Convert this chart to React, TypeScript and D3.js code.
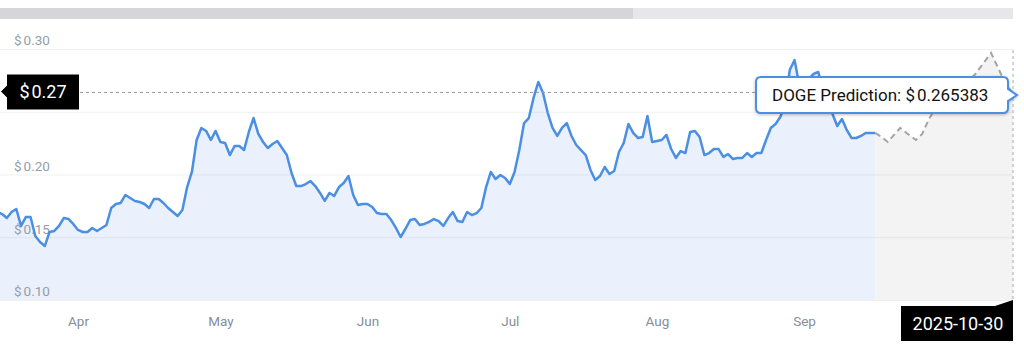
import { useEffect, useRef } from 'react';
import * as d3 from 'd3';

// daily DOGE closes (Mar 15 .. Sep 16, 2025)
const marchPrices = [0.1701, 0.1685, 0.1653, 0.1701, 0.1725, 0.1590, 0.1661, 0.1661, 0.1510, 0.1462, 0.1430, 0.1542, 0.1550, 0.1590, 0.1653, 0.1645, 0.1606];
const aprilPrices = [0.1558, 0.1542, 0.1542, 0.1574, 0.1550, 0.1574, 0.1598, 0.1733, 0.1765, 0.1773, 0.1837, 0.1813, 0.1789, 0.1781, 0.1765, 0.1733, 0.1805, 0.1805, 0.1773, 0.1733, 0.1701, 0.1669, 0.1717, 0.1900, 0.2020, 0.2275, 0.2371, 0.2347, 0.2275, 0.2347];
const mayPrices = [0.2259, 0.2251, 0.2155, 0.2227, 0.2227, 0.2195, 0.2339, 0.2450, 0.2323, 0.2259, 0.2211, 0.2243, 0.2267, 0.2211, 0.2155, 0.2012, 0.1908, 0.1908, 0.1924, 0.1948, 0.1908, 0.1853, 0.1789, 0.1853, 0.1829, 0.1900, 0.1932, 0.1988, 0.1837, 0.1757, 0.1765];
const junePrices = [0.1765, 0.1741, 0.1693, 0.1685, 0.1685, 0.1637, 0.1574, 0.1502, 0.1566, 0.1637, 0.1645, 0.1598, 0.1606, 0.1622, 0.1645, 0.1629, 0.1590, 0.1653, 0.1701, 0.1629, 0.1622, 0.1701, 0.1677, 0.1693, 0.1733, 0.1900, 0.2020, 0.1964, 0.1996, 0.1972];
const julyPrices = [0.1924, 0.2020, 0.2195, 0.2410, 0.2450, 0.2610, 0.2737, 0.2650, 0.2490, 0.2371, 0.2307, 0.2371, 0.2410, 0.2307, 0.2235, 0.2195, 0.2155, 0.2036, 0.1956, 0.1988, 0.2060, 0.2004, 0.2028, 0.2179, 0.2251, 0.2402, 0.2331, 0.2291, 0.2299, 0.2466, 0.2259];
const augustPrices = [0.2267, 0.2275, 0.2315, 0.2203, 0.2132, 0.2187, 0.2171, 0.2339, 0.2347, 0.2299, 0.2155, 0.2171, 0.2203, 0.2203, 0.2140, 0.2163, 0.2124, 0.2132, 0.2132, 0.2171, 0.2140, 0.2171, 0.2171, 0.2275, 0.2371, 0.2402, 0.2458, 0.2554, 0.2833, 0.2912, 0.2713];
const septemberPrices = [0.2689, 0.2761, 0.2801, 0.2817, 0.2673, 0.2562, 0.2482, 0.2386, 0.2442, 0.2355, 0.2291, 0.2291, 0.2307, 0.2331, 0.2331, 0.2331];

// prediction path: days after the last close, and predicted price
const forecastDayOffsets = [0, 2, 4, 8, 10, 13, 15, 17, 20, 24, 28, 32, 37, 40, 42, 44];
const forecastPrices = [0.2331, 0.2299, 0.2259, 0.2371, 0.2331, 0.2275, 0.2323, 0.2434, 0.2562, 0.2650, 0.2705, 0.2801, 0.2968, 0.2809, 0.2705, 0.265383];

const monthLabels = ['Apr', 'May', 'Jun', 'Jul', 'Aug', 'Sep'];
const yTicks = [0.10, 0.15, 0.20, 0.25, 0.30];
const hiddenTick = 0.25; // sits under the price flag
const predictedPrice = 0.265383;
const predictionLabel = '2025-10-30';

// "$" followed by a small gap, like the source font renders it
function dollarText(sel: any, value: string) {
  sel.text(null);
  sel.append('tspan').text('$');
  sel.append('tspan').attr('dx', 2).text(value);
}

export default function App() {
  const svgRef = useRef<SVGSVGElement>(null);

  useEffect(() => {
    const svg = d3.select(svgRef.current);
    svg.selectAll('*').remove();

    const plotRight = 1013;
    const plotBottom = 300;

    const firstDay = new Date(2025, 2, 15);
    const prices = [...marchPrices, ...aprilPrices, ...mayPrices, ...junePrices, ...julyPrices, ...augustPrices, ...septemberPrices];
    const history = prices.map((v, i) => ({ date: d3.timeDay.offset(firstDay, i), value: v }));
    const lastDate = history[history.length - 1].date;
    const forecast = forecastDayOffsets.map((d, i) => ({ date: d3.timeDay.offset(lastDate, d), value: forecastPrices[i] }));
    const predDate = forecast[forecast.length - 1].date;

    const x = d3.scaleTime()
      .domain([new Date(2025, 3, 1), lastDate, predDate])
      .range([78, 875.2, plotRight]);

    const y = d3.scaleLinear()
      .domain([0.10, 0.30])
      .range([plotBottom, 49]);

    const font = 'Roboto, sans-serif';

    // range bar on top
    svg.append('rect').attr('x', 0).attr('y', 8).attr('width', 633).attr('height', 11).attr('fill', '#d5d5da');
    svg.append('rect').attr('x', 633).attr('y', 8).attr('width', plotRight - 633).attr('height', 11).attr('fill', '#e7e7eb');

    const area = d3.area<{ date: Date; value: number }>()
      .x(d => x(d.date))
      .y0(plotBottom)
      .y1(d => y(d.value));

    const line = d3.line<{ date: Date; value: number }>()
      .x(d => x(d.date))
      .y(d => y(d.value));

    svg.append('path').datum(history).attr('d', area).attr('fill', '#eaf1fc');
    svg.append('path').datum(forecast).attr('d', area).attr('fill', '#f3f3f3');

    // grid + y labels
    const yAxis = svg.append('g')
      .call(d3.axisRight(y).tickValues(yTicks).tickSize(plotRight).tickFormat(d => (+d).toFixed(2)));
    yAxis.select('.domain').remove();
    yAxis.selectAll('line').attr('stroke', 'rgba(0,0,0,0.06)');
    yAxis.selectAll('text')
      .attr('x', 14)
      .attr('dy', '-0.3em')
      .attr('text-anchor', 'start')
      .style('font-family', font)
      .style('font-size', '13.5px')
      .attr('fill', '#959ea9')
      .each(function (d: any) {
        const t = d3.select(this);
        if (Math.abs(d - hiddenTick) < 1e-9) { t.remove(); return; }
        dollarText(t, (+d).toFixed(2));
      });

    // x labels
    const xAxis = svg.append('g')
      .attr('transform', `translate(0,${plotBottom})`)
      .call(d3.axisBottom(x)
        .tickValues(monthLabels.map((_, i) => new Date(2025, 3 + i, 1)))
        .tickFormat((_, i) => monthLabels[i])
        .tickSize(0)
        .tickPadding(16));
    xAxis.select('.domain').remove();
    xAxis.selectAll('text')
      .style('font-family', font)
      .style('font-size', '13.5px')
      .attr('fill', '#858e99');

    // lines
    svg.append('path').datum(history).attr('d', line)
      .attr('fill', 'none').attr('stroke', '#4a8fe2').attr('stroke-width', 2.5)
      .attr('stroke-linejoin', 'round');
    svg.append('path').datum(forecast).attr('d', line)
      .attr('fill', 'none').attr('stroke', '#a3a3a3').attr('stroke-width', 2)
      .attr('stroke-dasharray', '6 4');

    // crosshair
    const py = y(predictedPrice);
    const px = x(predDate);
    svg.append('line')
      .attr('x1', 80).attr('x2', px).attr('y1', py).attr('y2', py)
      .attr('stroke', '#999').attr('stroke-width', 1).attr('stroke-dasharray', '3 3');
    svg.append('line')
      .attr('x1', px).attr('x2', px).attr('y1', 50).attr('y2', plotBottom)
      .attr('stroke', '#aaa').attr('stroke-width', 1).attr('stroke-dasharray', '3 3');

    // y label flag
    const ly = py - 1;
    svg.append('path')
      .attr('d', `M1,${ly} L7,${ly - 6} L7,${ly - 17} L79,${ly - 17} L79,${ly + 18} L7,${ly + 18} L7,${ly + 6} Z`)
      .attr('fill', '#000');
    const flagText = svg.append('text')
      .attr('x', 43).attr('y', ly + 6.5)
      .attr('text-anchor', 'middle')
      .style('font-family', font).style('font-size', '18px')
      .attr('fill', '#fff');
    dollarText(flagText, predictedPrice.toFixed(2));

    // x label flag
    svg.append('path')
      .attr('d', `M${px - 112},306 L${px - 18},306 L${px},${plotBottom} L${px},341 L${px - 112},341 Z`)
      .attr('fill', '#000');
    svg.append('text')
      .attr('x', px - 55).attr('y', 330)
      .attr('text-anchor', 'middle')
      .style('font-family', font).style('font-size', '18px')
      .attr('fill', '#fff')
      .text(predictionLabel);

    // tooltip
    const defs = svg.append('defs');
    const f = defs.append('filter').attr('id', 'tipShadow').attr('x', '-10%').attr('y', '-30%').attr('width', '120%').attr('height', '160%');
    f.append('feDropShadow').attr('dx', 0).attr('dy', 1).attr('stdDeviation', 1.5).attr('flood-opacity', 0.25);

    const tx0 = 756, tx1 = 1008, ty = py + 2.6, th = 18, r = 5;
    const tipPath = `M${tx0 + r},${ty - th} H${tx1 - r} Q${tx1},${ty - th} ${tx1},${ty - th + r} V${ty - 6} L${tx1 + 9},${ty} L${tx1},${ty + 6} V${ty + th - r} Q${tx1},${ty + th} ${tx1 - r},${ty + th} H${tx0 + r} Q${tx0},${ty + th} ${tx0},${ty + th - r} V${ty - th + r} Q${tx0},${ty - th} ${tx0 + r},${ty - th} Z`;
    svg.append('path')
      .attr('d', tipPath)
      .attr('fill', '#fff')
      .attr('stroke', '#4a8fe2')
      .attr('stroke-width', 2)
      .attr('filter', 'url(#tipShadow)');
    const tipText = svg.append('text')
      .attr('x', 772).attr('y', ty + 6)
      .style('font-family', font).style('font-size', '17px')
      .attr('fill', '#111');
    tipText.append('tspan').text('DOGE Prediction: $');
    tipText.append('tspan').attr('dx', 2).text(String(predictedPrice));
  }, []);

  return <svg ref={svgRef} width={1024} height={352} style={{ position: 'absolute', left: 0, top: 0 }} />;
}
